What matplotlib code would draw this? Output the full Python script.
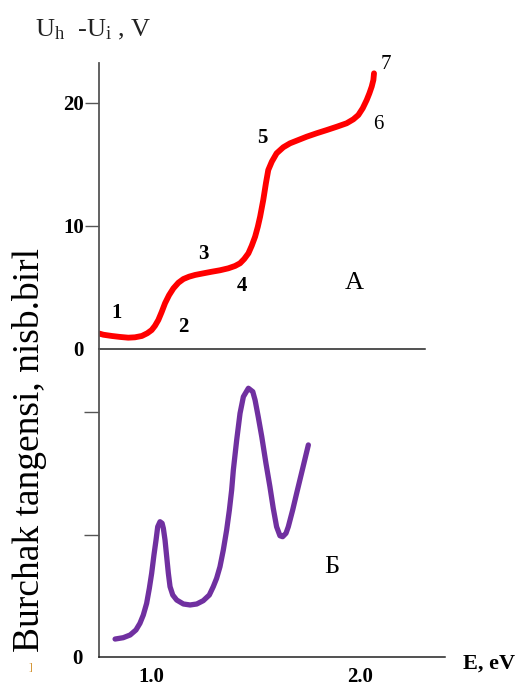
import matplotlib
matplotlib.use("Agg")
import matplotlib.pyplot as plt

plt.rcParams['font.family'] = ['Liberation Serif', 'DejaVu Serif']
plt.rcParams['mathtext.fontset'] = 'custom'
plt.rcParams['mathtext.rm'] = 'Liberation Serif'
plt.rcParams['mathtext.it'] = 'Liberation Serif:italic'
plt.rcParams['mathtext.bf'] = 'Liberation Serif:bold'

# --- data ---
# Curve A: Uh - Ui (V) vs E (eV)
energy_a = [0.751, 0.772, 0.812, 0.852, 0.891, 0.923, 0.956, 0.982, 1.003, 1.019,
            1.035, 1.051, 1.067, 1.086, 1.107, 1.131, 1.155, 1.182, 1.211, 1.250,
            1.290, 1.330, 1.370, 1.402, 1.426, 1.446, 1.466, 1.482, 1.498, 1.511,
            1.522, 1.537, 1.550, 1.561, 1.578, 1.601, 1.633, 1.665, 1.705, 1.745,
            1.793, 1.841, 1.889, 1.936, 1.968, 1.992, 2.013, 2.032, 2.045, 2.056,
            2.064, 2.067]
voltage_a = [1.26, 1.16, 1.06, 0.98, 0.92, 0.95, 1.06, 1.28, 1.54, 1.89,
             2.36, 3.01, 3.72, 4.37, 4.93, 5.39, 5.69, 5.88, 6.02, 6.15,
             6.28, 6.40, 6.56, 6.75, 6.97, 7.32, 7.78, 8.40, 9.13, 9.94,
             10.76, 12.11, 13.50, 14.55, 15.23, 15.91, 16.40, 16.72, 16.99, 17.26,
             17.54, 17.80, 18.07, 18.35, 18.67, 19.02, 19.57, 20.24, 20.79, 21.33,
             21.87, 22.41]
# Curve B: loss tangent (arb. units) vs E (eV)
energy_b = [0.828, 0.867, 0.900, 0.928, 0.947, 0.963, 0.979, 0.992, 1.003, 1.014,
            1.024, 1.032, 1.043, 1.053, 1.059, 1.067, 1.075, 1.083, 1.091, 1.104,
            1.123, 1.155, 1.187, 1.219, 1.250, 1.279, 1.298, 1.314, 1.330, 1.346,
            1.362, 1.375, 1.386, 1.394, 1.410, 1.426, 1.442, 1.466, 1.487, 1.498,
            1.513, 1.530, 1.550, 1.569, 1.585, 1.601, 1.617, 1.630, 1.646, 1.657,
            1.678, 1.697, 1.726, 1.753]
tangent_b = [0.146, 0.157, 0.179, 0.220, 0.274, 0.341, 0.436, 0.559, 0.680, 0.829,
             0.951, 1.059, 1.100, 1.087, 1.046, 0.951, 0.815, 0.680, 0.572, 0.504,
             0.463, 0.431, 0.423, 0.431, 0.458, 0.504, 0.572, 0.640, 0.734, 0.870,
             1.033, 1.195, 1.358, 1.520, 1.764, 1.981, 2.116, 2.185, 2.157, 2.089,
             1.954, 1.791, 1.575, 1.385, 1.209, 1.059, 0.986, 0.978, 1.006, 1.059,
             1.195, 1.331, 1.534, 1.724]

point_labels = ['1', '2', '3', '4', '5', '6', '7']
point_label_x = [0.834, 1.153, 1.249, 1.435, 1.531, 2.086, 2.124]
point_label_y = [2.93, 1.79, 7.72, 5.12, 17.15, 18.29, 23.1]
point_label_bold = [True, True, True, True, True, False, False]

upper_yticks = [0, 10, 20]
upper_yticklabels = ['0', '10', '20']
lower_yticks = [0, 0.99, 1.99]
lower_yticklabels = ['0', '', '']
xticks = [1.0, 2.0]
xticklabels = ['1.0', '2.0']

W, H = 522, 688
fig = plt.figure(figsize=(W / 100, H / 100), dpi=100)

left = 99 / W
ax_up = fig.add_axes([left, (H - 349) / H, 326 / W, (349 - 63) / H])
ax_lo = fig.add_axes([left, (H - 657) / H, 346 / W, (657 - 349) / H])

axis_color = '#555555'

# Upper panel
ax_up.plot(energy_a, voltage_a, color='#ff0000', lw=4.2, solid_capstyle='round',
           solid_joinstyle='round')
ax_up.set_xlim(0.751, 2.311)
ax_up.set_ylim(0, 23.25)
for s in ['top', 'right']:
    ax_up.spines[s].set_visible(False)
ax_up.spines['left'].set_color(axis_color)
ax_up.spines['left'].set_linewidth(1.3)
ax_up.spines['bottom'].set_color('#222222')
ax_up.spines['bottom'].set_linewidth(1.1)
ax_up.set_xticks([])
ax_up.set_yticks(upper_yticks)
ax_up.set_yticklabels(upper_yticklabels, fontsize=15, fontweight='bold')
ax_up.tick_params(axis='y', length=10, width=1.0, color=axis_color, pad=1)
ax_up.yaxis.get_major_ticks()[0].tick1line.set_visible(False)
ax_up.patch.set_alpha(0)

for lab, lx, ly, b in zip(point_labels, point_label_x, point_label_y, point_label_bold):
    ax_up.text(lx, ly, lab, fontsize=15, fontweight='bold' if b else 'normal',
               ha='center', va='center', clip_on=False)
ax_up.text(1.971, 5.4, 'А', fontsize=19, ha='center', va='center')

# Lower panel
ax_lo.plot(energy_b, tangent_b, color='#7030a0', lw=3.8, solid_capstyle='round',
           solid_joinstyle='round')
ax_lo.set_xlim(0.751, 2.407)
ax_lo.set_ylim(0, 2.504)
for s in ['top', 'right']:
    ax_lo.spines[s].set_visible(False)
ax_lo.spines['left'].set_color(axis_color)
ax_lo.spines['left'].set_linewidth(1.3)
ax_lo.spines['bottom'].set_color('#222222')
ax_lo.spines['bottom'].set_linewidth(1.1)
ax_lo.set_yticks(lower_yticks)
ax_lo.set_yticklabels(lower_yticklabels, fontsize=15, fontweight='bold')
ax_lo.tick_params(axis='y', length=11, width=1.0, color=axis_color, pad=1)
ax_lo.yaxis.get_major_ticks()[0].tick1line.set_visible(False)
ax_lo.set_xticks(xticks)
ax_lo.set_xticklabels(xticklabels, fontsize=15, fontweight='bold')
ax_lo.tick_params(axis='x', length=0, pad=7)
ax_lo.patch.set_alpha(0)

ax_lo.text(1.866, 0.73, 'Б', fontsize=19, ha='center', va='center')
ax_lo.text(2.617, -0.05, 'E, eV', fontsize=16, fontweight='bold', ha='center',
           va='center', clip_on=False)

# Axis titles
fig.text(35 / W, 1 - 36 / H, r'U$_\mathrm{h}$  -U$_\mathrm{i}$ , V', fontsize=19,
         ha='left', va='baseline', color='#222222')
fig.text(30 / W, 1 - 450 / H, 'Burchak tangensi, nisb.birl', fontsize=27,
         rotation=90, ha='center', va='center')
fig.text(30 / W, 1 - 668 / H, ']', fontsize=8, color='#d08a20', ha='center', va='center')

fig.savefig('out.png', dpi=100)
